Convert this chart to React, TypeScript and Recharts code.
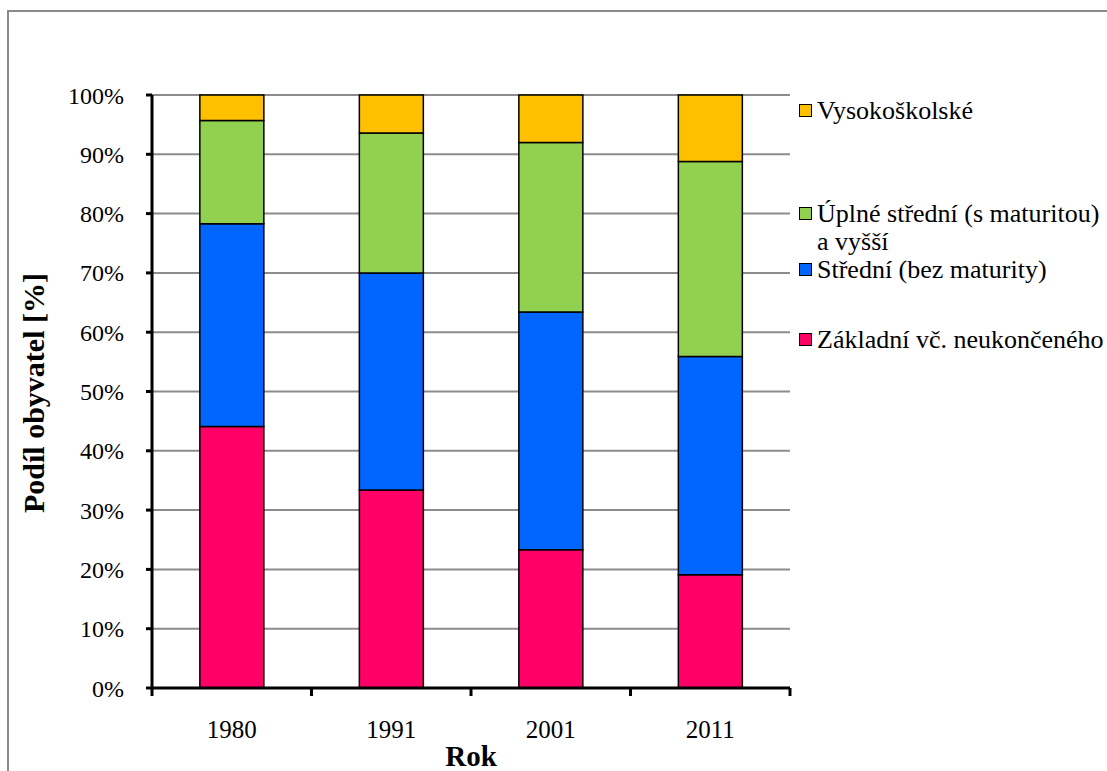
import React from 'react';
import { BarChart, Bar, XAxis, YAxis, CartesianGrid } from 'recharts';

const years = ['1980', '1991', '2001', '2011'];
const zakladni = [44.1, 33.4, 23.3, 19.1];
const stredni = [34.2, 36.6, 40.1, 36.8];
const uplne = [17.4, 23.6, 28.6, 32.9];
const vysoko = [4.3, 6.4, 8.0, 11.2];
const yTicks = [0, 10, 20, 30, 40, 50, 60, 70, 80, 90, 100];

const seriesNames = {
  zakladni: 'Základní vč. neukončeného',
  stredni: 'Střední (bez maturity)',
  uplne: 'Úplné střední (s maturitou) a vyšší',
  vysoko: 'Vysokoškolské',
};

const COLORS = {
  zakladni: '#FF0066',
  stredni: '#0066FF',
  uplne: '#92D050',
  vysoko: '#FFC000',
};

const data = years.map((year, i) => ({
  year,
  zakladni: zakladni[i],
  stredni: stredni[i],
  uplne: uplne[i],
  vysoko: vysoko[i],
}));

const FONT = '"Liberation Serif", "Times New Roman", serif';
const BAND = 159.5;

const legendItems = [
  { key: 'vysoko', lines: ['Vysokoškolské'], cy: 111 },
  { key: 'uplne', lines: ['Úplné střední (s maturitou)', 'a vyšší'], cy: 214 },
  { key: 'stredni', lines: ['Střední (bez maturity)'], cy: 270 },
  { key: 'zakladni', lines: ['Základní vč. neukončeného'], cy: 340 },
];

const XTick = (props: any) => {
  const { x, y, payload, index } = props;
  const left = x - BAND / 2;
  return (
    <g>
      <line x1={left} x2={left} y1={y - 8} y2={y} stroke="#000" strokeWidth={3} />
      {index === years.length - 1 && (
        <line x1={x + BAND / 2} x2={x + BAND / 2} y1={y - 8} y2={y} stroke="#000" strokeWidth={3} />
      )}
      <text x={x} y={y + 42} textAnchor="middle" fontSize={25} fontFamily={FONT} fill="#000">
        {payload.value}
      </text>
    </g>
  );
};

export default function App() {
  return (
    <div style={{ position: 'absolute', left: 0, top: 0, width: 1107, height: 771, overflow: 'hidden', background: '#fff', fontFamily: FONT }}>
      <div style={{ position: 'absolute', left: 7, top: 10, width: 1200, height: 900, border: '2px solid #8a8a8a' }} />
      <BarChart
        width={1107}
        height={771}
        data={data}
        margin={{ top: 95, right: 317, bottom: 23, left: 52 }}
        barCategoryGap="30%"
        style={{ position: 'absolute', left: 0, top: 0 }}
      >
        <CartesianGrid vertical={false} stroke="#8c8c8c" strokeWidth={2} />
        <XAxis
          dataKey="year"
          height={60}
          tickLine={false}
          axisLine={{ stroke: '#000', strokeWidth: 3 }}
          tick={<XTick />}
          interval={0}
        />
        <YAxis
          width={100}
          domain={[0, 100]}
          ticks={yTicks}
          interval={0}
          tickFormatter={(v: number) => `${v}%`}
          tickSize={6}
          tickMargin={22}
          tickLine={{ stroke: '#000', strokeWidth: 3 }}
          axisLine={{ stroke: '#000', strokeWidth: 3 }}
          tick={{ fontSize: 24, fill: '#000', fontFamily: FONT }}
        />
        <Bar dataKey="zakladni" name={seriesNames.zakladni} stackId="a" fill={COLORS.zakladni} stroke="#000" strokeWidth={1.5} isAnimationActive={false} />
        <Bar dataKey="stredni" name={seriesNames.stredni} stackId="a" fill={COLORS.stredni} stroke="#000" strokeWidth={1.5} isAnimationActive={false} />
        <Bar dataKey="uplne" name={seriesNames.uplne} stackId="a" fill={COLORS.uplne} stroke="#000" strokeWidth={1.5} isAnimationActive={false} />
        <Bar dataKey="vysoko" name={seriesNames.vysoko} stackId="a" fill={COLORS.vysoko} stroke="#000" strokeWidth={1.5} isAnimationActive={false} />
      </BarChart>

      {/* axis titles */}
      <div style={{ position: 'absolute', left: 34, top: 393, transform: 'translate(-50%, -50%) rotate(-90deg)', whiteSpace: 'nowrap', fontWeight: 'bold', fontSize: 30, color: '#000' }}>
        Podíl obyvatel [%]
      </div>
      <div style={{ position: 'absolute', left: 471, top: 756, transform: 'translate(-50%, -50%)', whiteSpace: 'nowrap', fontWeight: 'bold', fontSize: 29, color: '#000' }}>
        Rok
      </div>

      {/* legend */}
      {legendItems.map((item) => (
        <div key={item.key}>
          <div style={{ position: 'absolute', left: 799, top: item.cy - 7, width: 11, height: 11, border: '1.5px solid #000', background: COLORS[item.key as keyof typeof COLORS] }} />
          {item.lines.map((line, j) => (
            <div key={j} style={{ position: 'absolute', left: 817, top: item.cy - 14 + j * 28, height: 28, lineHeight: '28px', fontSize: 26, color: '#000', whiteSpace: 'nowrap' }}>
              {line}
            </div>
          ))}
        </div>
      ))}
    </div>
  );
}
